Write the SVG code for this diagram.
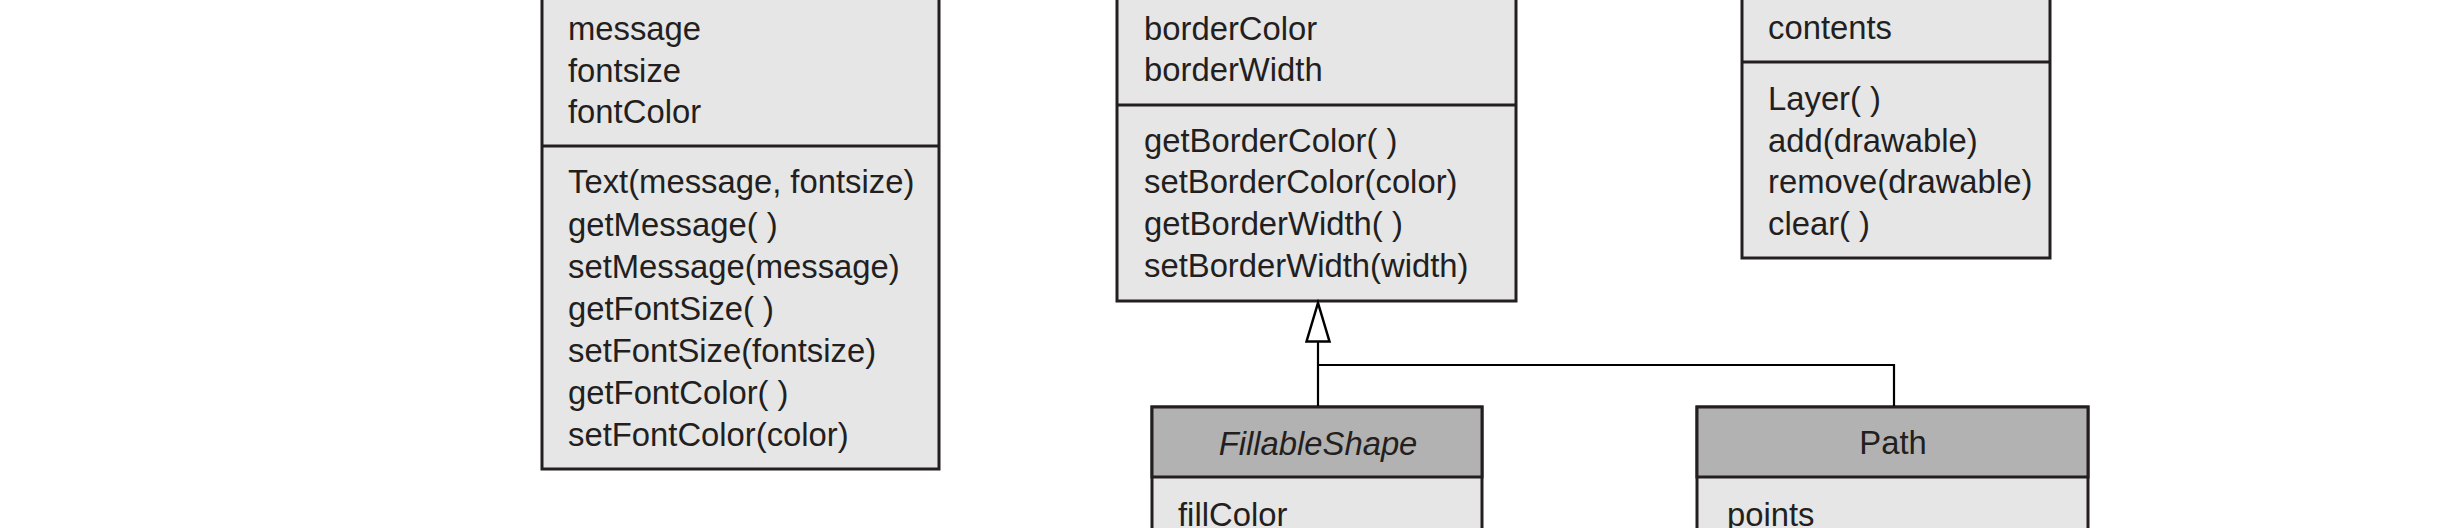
<svg xmlns="http://www.w3.org/2000/svg" width="2448" height="528" viewBox="0 0 2448 528">
<style>
.box{fill:#e6e6e6;stroke:#231f20;stroke-width:3}
.hdr{fill:#b2b2b2;stroke:#231f20;stroke-width:3}
.div{stroke:#231f20;stroke-width:3}
.t{font-family:"Liberation Sans",Arial,sans-serif;font-size:32.8px;fill:#231f20}
.c{text-anchor:middle}
.i{font-style:italic}
.conn{fill:none;stroke:#000;stroke-width:2.2}
</style>
<defs>
<marker id="gen" markerUnits="userSpaceOnUse" markerWidth="44" markerHeight="28" refX="40" refY="13" orient="auto">
<path d="M1.5,1.5 L40,13 L1.5,24.5 Z" fill="#fff" stroke="#000" stroke-width="2.5"/>
</marker>
</defs>
<rect width="2448" height="528" fill="#fff"/>
<g id="Text">
<rect class="box" x="542" y="-10" width="397" height="479"/>
<line class="div" x1="542" y1="146" x2="939" y2="146"/>
<text class="t" x="568" y="40">message</text>
<text class="t" x="568" y="82">fontsize</text>
<text class="t" x="568" y="123">fontColor</text>
<text class="t" x="568" y="193">Text(message, fontsize)</text>
<text class="t" x="568" y="236">getMessage( )</text>
<text class="t" x="568" y="278">setMessage(message)</text>
<text class="t" x="568" y="320">getFontSize( )</text>
<text class="t" x="568" y="362">setFontSize(fontsize)</text>
<text class="t" x="568" y="404">getFontColor( )</text>
<text class="t" x="568" y="446">setFontColor(color)</text>
</g>
<g id="Shape">
<rect class="box" x="1117" y="-10" width="399" height="311"/>
<line class="div" x1="1117" y1="105" x2="1516" y2="105"/>
<text class="t" x="1144" y="40">borderColor</text>
<text class="t" x="1144" y="81">borderWidth</text>
<text class="t" x="1144" y="152">getBorderColor( )</text>
<text class="t" x="1144" y="193">setBorderColor(color)</text>
<text class="t" x="1144" y="235">getBorderWidth( )</text>
<text class="t" x="1144" y="277">setBorderWidth(width)</text>
</g>
<g id="Layer">
<rect class="box" x="1742" y="-10" width="308" height="268"/>
<line class="div" x1="1742" y1="62" x2="2050" y2="62"/>
<text class="t" x="1768" y="39">contents</text>
<text class="t" x="1768" y="110">Layer( )</text>
<text class="t" x="1768" y="152">add(drawable)</text>
<text class="t" x="1768" y="193">remove(drawable)</text>
<text class="t" x="1768" y="235">clear( )</text>
</g>
<g id="FillableShape">
<rect class="box" x="1152" y="407" width="330" height="140"/>
<rect class="hdr" x="1152" y="407" width="330" height="70"/>
<text class="t c i" x="1318" y="455">FillableShape</text>
<text class="t" x="1178" y="526">fillColor</text>
</g>
<g id="Path">
<rect class="box" x="1697" y="407" width="391" height="140"/>
<rect class="hdr" x="1697" y="407" width="391" height="70"/>
<text class="t c" x="1893" y="454">Path</text>
<text class="t" x="1727" y="526">points</text>
</g>
<g id="connectors">
<line class="conn" x1="1318" y1="406" x2="1318" y2="303" marker-end="url(#gen)"/>
<polyline class="conn" points="1318,365 1894,365 1894,406"/>
</g>
</svg>
